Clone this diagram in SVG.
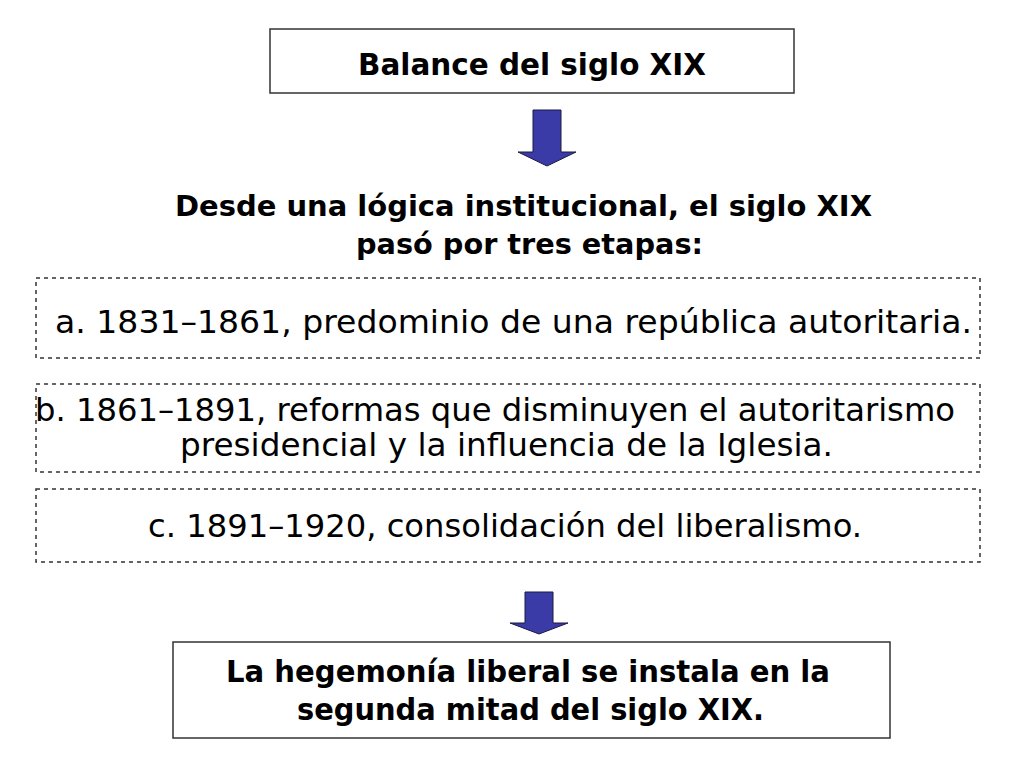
<svg xmlns="http://www.w3.org/2000/svg" width="1024" height="768" viewBox="0 0 1024 768">
<style>
.box{fill:#fff;stroke:#333;stroke-width:1.5}
.dash{fill:#fff;stroke:#333;stroke-width:1.5;stroke-dasharray:4 4}
.b{font-family:"DejaVu Sans","Liberation Sans",sans-serif;font-weight:bold;fill:#000;text-anchor:middle}
.r{font-family:"DejaVu Sans","Liberation Sans",sans-serif;fill:#000;text-anchor:middle}
.arrow{fill:#3b3ba8;stroke:#1a1a40;stroke-width:1}
</style>
<rect width="1024" height="768" fill="#fff"/>
<g id="title">
<rect class="box" x="270" y="29" width="524" height="64"/>
<text class="b" x="532" y="75" font-size="30" textLength="348" lengthAdjust="spacingAndGlyphs">Balance del siglo XIX</text>
</g>
<g id="heading">
<text class="b" x="523.5" y="216" font-size="28" textLength="697" lengthAdjust="spacingAndGlyphs">Desde una lógica institucional, el siglo XIX</text>
<text class="b" x="529.5" y="254" font-size="28" textLength="347" lengthAdjust="spacingAndGlyphs">pasó por tres etapas:</text>
</g>
<g id="stage-a">
<rect class="dash" x="36" y="278" width="944" height="80"/>
<text class="r" x="513.5" y="333" font-size="32" textLength="917" lengthAdjust="spacingAndGlyphs">a. 1831–1861, predominio de una república autoritaria.</text>
</g>
<g id="stage-b">
<rect class="dash" x="36" y="384" width="944" height="88"/>
<text class="r" x="495" y="421" font-size="32" textLength="920" lengthAdjust="spacingAndGlyphs">b. 1861–1891, reformas que disminuyen el autoritarismo</text>
<text class="r" x="506.5" y="456" font-size="32" textLength="653" lengthAdjust="spacingAndGlyphs">presidencial y la influencia de la Iglesia.</text>
</g>
<g id="stage-c">
<rect class="dash" x="36" y="489" width="944" height="73"/>
<text class="r" x="505" y="537" font-size="32" textLength="714" lengthAdjust="spacingAndGlyphs">c. 1891–1920, consolidación del liberalismo.</text>
</g>
<g id="conclusion">
<rect class="box" x="173" y="642" width="717" height="96"/>
<text class="b" x="528" y="682" font-size="30" textLength="604" lengthAdjust="spacingAndGlyphs">La hegemonía liberal se instala en la</text>
<text class="b" x="530.5" y="720" font-size="30" textLength="467" lengthAdjust="spacingAndGlyphs">segunda mitad del siglo XIX.</text>
</g>
<g id="connectors">
<polygon class="arrow" points="533,110 561,110 561,152 576,152 547,166 518,152 533,152"/>
<polygon class="arrow" points="525,592 553,592 553,623 568,623 539,634 510,623 525,623"/>
</g>
</svg>
